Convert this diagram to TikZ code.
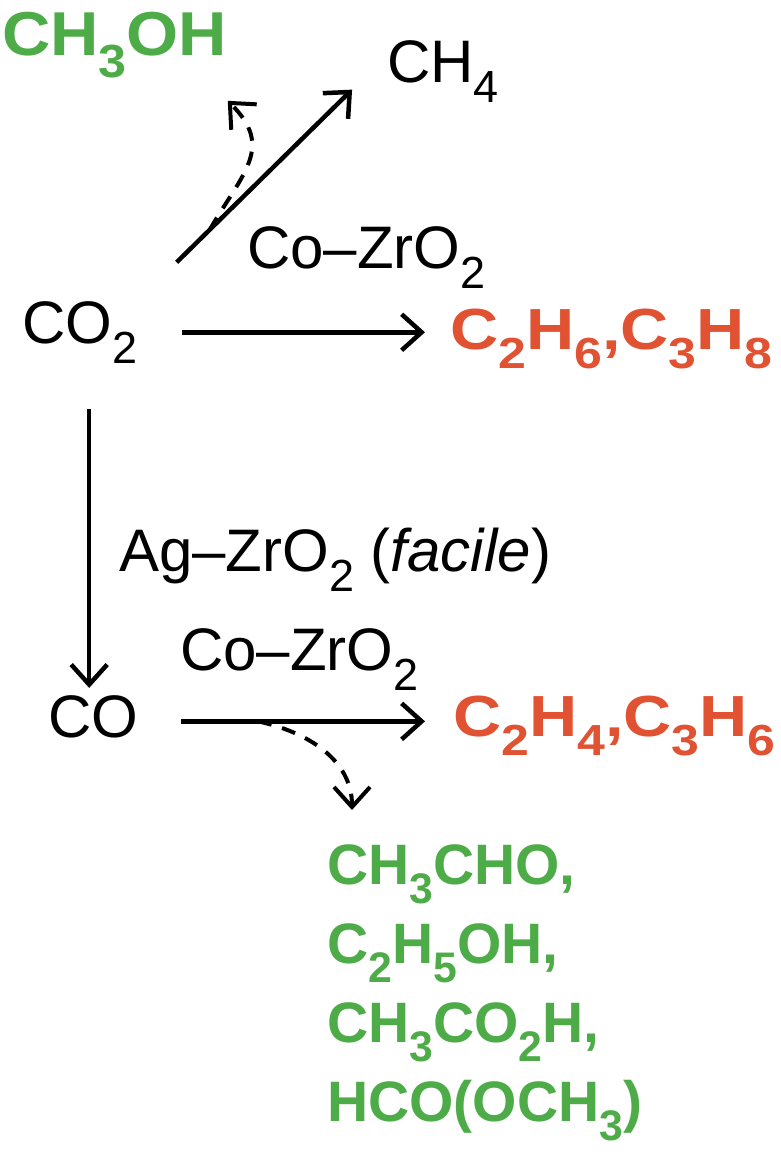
\documentclass[tikz,border=0pt]{standalone}
\usepackage{fontspec}
\setmainfont{Liberation Sans}
\usepackage{graphicx}
\usepackage{xcolor}
\usepackage{tikz}
\usetikzlibrary{positioning, arrows.meta}

\definecolor{prodred}{RGB}{224,82,50}
\definecolor{prodgreen}{RGB}{77,172,72}
\newcommand{\sbs}[1]{\raisebox{-0.34em}{\scalebox{0.75}{#1}}}
\newcommand{\wide}[2][1.15]{\scalebox{#1}[1]{#2}}

\begin{document}
\begin{tikzpicture}[x=1pt, y=-1pt,
    every node/.style={inner sep=0pt, anchor=base west, font=\fontsize{60}{70}\selectfont},
    alkane/.style={text=prodred, font=\fontsize{58}{70}\selectfont\bfseries},
    oxyg/.style={text=prodgreen, font=\fontsize{57}{79}\selectfont\bfseries},
    rxn/.style={line width=4.5pt, -{Straight Barb[length=20pt, width=36pt]}},
    leak/.style={rxn, line width=4pt, dash pattern=on 14pt off 11pt}]
    \useasboundingbox (0,0) rectangle (780,1156);
    \node[oxyg, font=\fontsize{62}{70}\selectfont\bfseries] (meoh) at (2,56) {\wide[1.08]{CH\sbs{3}OH}};
    \node (ch4) at (387,82) {CH\sbs{4}};
    \node (co2) at (22,343) {CO\sbs{2}};
    \node[alkane] (c2h6) at (450,349) {\wide{C\sbs{2}H\sbs{6},C\sbs{3}H\sbs{8}}};
    \node (cat1) at (247,268) {Co–ZrO\sbs{2}};
    \node (cat2) at (119,571) {Ag–ZrO\sbs{2} (\textit{facile})};
    \node (cat3) at (180,670) {Co–ZrO\sbs{2}};
    \node (co) at (48,737) {CO};
    \node[alkane] (c2h4) at (453,736) {\wide{C\sbs{2}H\sbs{4},C\sbs{3}H\sbs{6}}};
    \node[oxyg, align=left, anchor=north west] (oxy) at (327,844)
        {CH\sbs{3}CHO,\\C\sbs{2}H\sbs{5}OH,\\CH\sbs{3}CO\sbs{2}H,\\HCO(OCH\sbs{3})};
    \draw[rxn, shorten <=55pt, shorten >=49pt] (co2.north east) -- coordinate[pos=0.29] (up) ([yshift=16pt]ch4.west);
    \draw[leak] (up) to[out=60, in=-45, looseness=1.3] ([xshift=113pt, yshift=-23pt]meoh.south);
    \draw[rxn, shorten <=45pt, shorten >=25pt] (co2.east) -- (co2.east -| c2h6.west);
    \draw[rxn, shorten <=45pt, shorten >=7pt] ([xshift=-4pt]co.north |- co2.south) -- ([xshift=-4pt]co.north);
    \draw[rxn, shorten <=43pt, shorten >=28pt] ([yshift=-5pt]co.east) -- coordinate[pos=0.38] (down) ([yshift=-5pt]co.east -| c2h4.west);
    \draw[leak] (down) to[out=-12, in=90] ([xshift=25pt, yshift=34pt]oxy.north west);
\end{tikzpicture}
\end{document}
